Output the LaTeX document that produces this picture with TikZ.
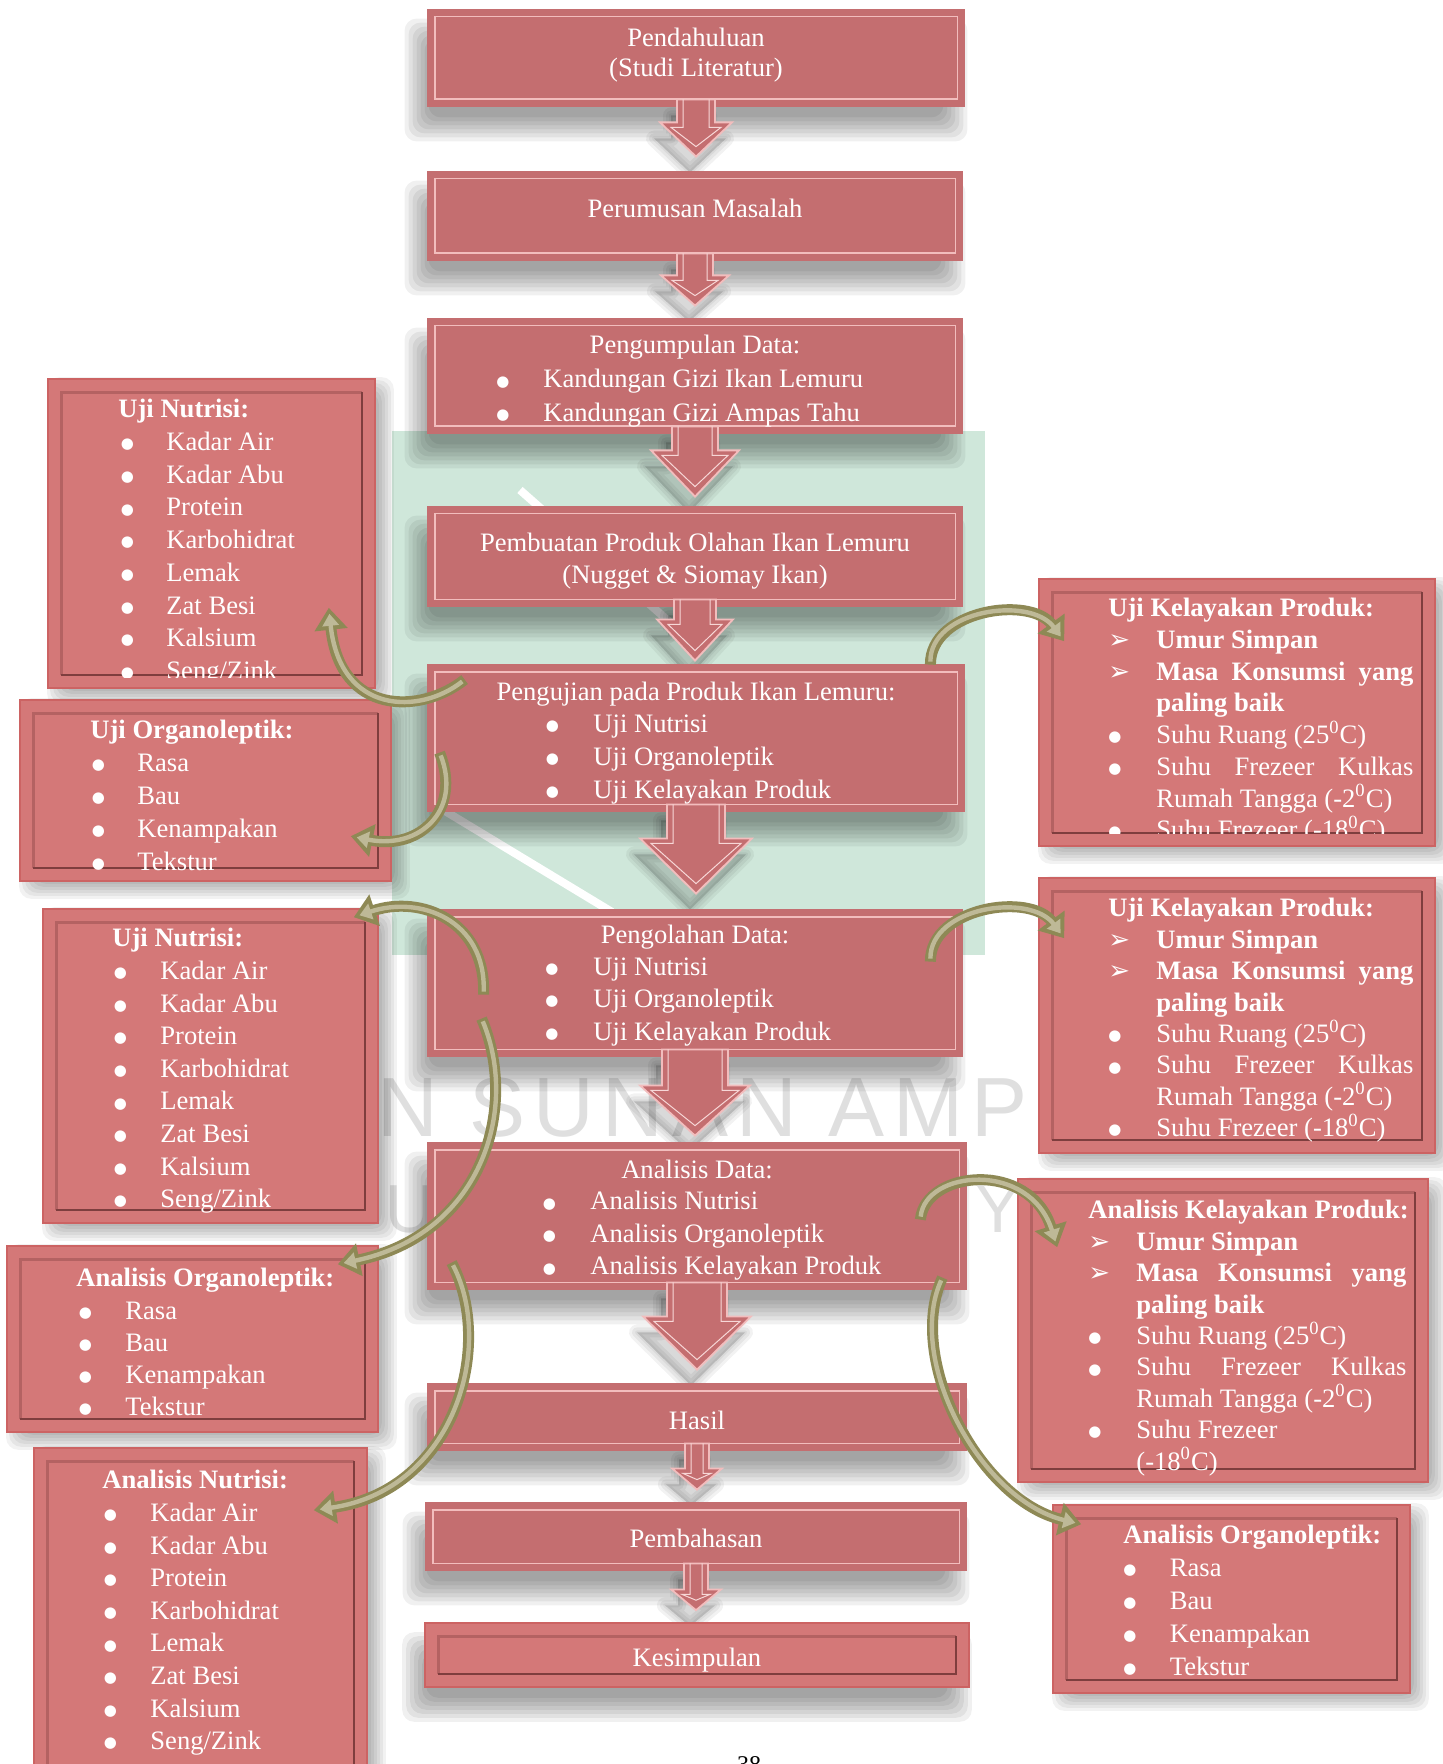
\documentclass[tikz,border=0pt]{standalone}
\usepackage{fontspec}
\setmainfont{Liberation Serif}
\newfontfamily\dingfont{DejaVu Sans}
\newfontfamily\wmfont[LetterSpace=10]{Liberation Sans}
\usetikzlibrary{arrows.meta,calc,fit}

\definecolor{mainfill}{HTML}{C46E70}
\definecolor{sidefill}{HTML}{D47878}
\definecolor{sideedge}{HTML}{CC6363}
\definecolor{framepink}{HTML}{F2BDBD}
\definecolor{bevellight}{HTML}{B46262}
\definecolor{beveldark}{HTML}{7E3E3E}
\definecolor{olive}{HTML}{8E8955}
\definecolor{olivelight}{HTML}{BEB997}
\definecolor{wmgreen}{HTML}{CFE7DA}
\definecolor{wmgray}{HTML}{9C9C9C}

\pgfdeclarelayer{wm}
\pgfdeclarelayer{bg}
\pgfsetlayers{wm,bg,main}

% list helpers: bullet / arrowhead marker in a box of given width
\newcommand\bul[1]{\makebox[#1][l]{\raisebox{0.9pt}{\dingfont\fontsize{7.5}{8}\selectfont ●}}}
\newcommand\arw[1]{\makebox[#1][l]{\dingfont\fontsize{13}{13}\selectfont ➢}}
\newcommand\dg{\textsuperscript{0}}

% box in the main column: name, x1, y1, x2, y2
\newcommand\MainBox[5]{%
  \node[mainbox, fit={(#2,#3) (#4,#5)}] (#1) {};
  \draw[mainframe] ([shift={(8,8)}]#1.north west) rectangle ([shift={(-8,-8)}]#1.south east);
}
% bevelled side box: name, x1, y1, x2, y2
\newcommand\SideBox[5]{%
  \node[sidebox, fit={(#2,#3) (#4,#5)}] (#1) {};
  \draw[bevtop] ([shift={(14,-14)}]#1.south west) |- ([shift={(-14,14)}]#1.north east);
  \draw[bevbot] ([shift={(14,-14)}]#1.south west) -| ([shift={(-14,14)}]#1.north east);
}
% soft shadow made of stacked translucent rectangles: node, dx, dy, step, opacity
\newcommand\SoftShadow[5]{%
  \foreach \k in {1,...,7}{%
    \fill[black, opacity=#5, rounded corners=6pt]
      ($(#1.north west)+(#2-\k*#4+4*#4,#3-\k*#4+4*#4)$) rectangle
      ($(#1.south east)+(#2+\k*#4-4*#4,#3+\k*#4-4*#4)$);
  }%
}
% block arrow between two boxes of the main column
% from, to, shaft half width, head half width, head top below 'from', tip above 'to', prefix
\newcommand\DownArrow[7]{%
  \coordinate (#7a) at ($(#1.south)+(-#3,-8)$);
  \coordinate (#7b) at ($(#1.south)+(-#3,#5)$);
  \coordinate (#7c) at ($(#1.south)+(-#4,#5)$);
  \coordinate (#7d) at ($(#2.north -| #1.south)+(0,-#6)$);
  \coordinate (#7e) at ($(#1.south)+(#4,#5)$);
  \coordinate (#7f) at ($(#1.south)+(#3,#5)$);
  \coordinate (#7g) at ($(#1.south)+(#3,-8)$);
  \begin{pgfonlayer}{bg}
    \foreach \w in {4,10,16}{%
      \filldraw[black, opacity=.05, line width=\w*0.5pt, line join=round,
                transform canvas={xshift=-3pt, yshift=-8pt}]
        (#7a) -- (#7b) -- (#7c) -- (#7d) -- (#7e) -- (#7f) -- (#7g) -- cycle;
    }%
  \end{pgfonlayer}
  \draw[blockarrow] (#7a) -- (#7b) -- (#7c) -- (#7d) -- (#7e) -- (#7f) -- (#7g) -- cycle;
  \draw[arrowinner] ($(#1.south)+(-#3+6,-8)$) -- ($(#1.south)+(-#3+6,#5+5)$)
     -- ($(#1.south)+(-#4+11,#5+5)$) -- ($(#2.north -| #1.south)+(0,-#6-10)$)
     -- ($(#1.south)+(#4-11,#5+5)$) -- ($(#1.south)+(#3-6,#5+5)$) -- ($(#1.south)+(#3-6,-8)$);
}
% curved olive arrow: start, control 1, control 2, end
\newcommand\Curve[4]{%
  \draw[curveout] #1 .. controls #2 and #3 .. #4;
  \draw[curvein] #1 .. controls #2 and #3 .. #4;
}

\begin{document}
\begin{tikzpicture}[x=0.5pt, y=-0.5pt,
  mainbox/.style={fill=mainfill, draw=none, inner sep=0pt},
  sidebox/.style={fill=sidefill, draw=sideedge, line width=0.8pt, inner sep=0pt},
  mainframe/.style={draw=framepink, line width=0.9pt},
  bevtop/.style={draw=bevellight, line width=1.5pt},
  bevbot/.style={draw=beveldark, line width=0.9pt},
  blockarrow/.style={fill=mainfill, draw=framepink, line width=0.9pt},
  arrowinner/.style={draw=framepink!60!white, line width=0.5pt},
  curveout/.style={draw=olive, line width=5.5pt, -{Triangle[width=16pt,length=11pt]}},
  curvein/.style={draw=olivelight, line width=2.2pt, shorten <=1.5pt, shorten >=3pt, -{Triangle[width=8pt,length=6pt]}},
  txt/.style={text=white, inner sep=0pt, font=\fontsize{13.3}{16.3}\selectfont},
  one/.style={txt, text height=9pt, text depth=0pt},
  list/.style={txt, align=left, anchor=north west},
  wmtxt/.style={text=wmgray, opacity=.32, inner sep=0pt, anchor=base west}]

\useasboundingbox (0,0) rectangle (1442,1764);

% ---------- faint background emblem and lettering ----------
\begin{pgfonlayer}{wm}
  \fill[white] (0,0) rectangle (1442,1764);
  \fill[wmgreen] (392,431) rectangle (985,955);
  \draw[white, line width=4pt] (440,808) -- (612,912);
  \draw[white, line width=4pt] (520,490) -- (690,640);
  \node[wmtxt, font=\wmfont\fontsize{42}{42}\selectfont] (wmA) at (276,1136) {UIN SUNAN AMP};
  \node[wmtxt, font=\wmfont\fontsize{34}{34}\selectfont] (wmU) at (385,1232) {U};
  \node[wmtxt, font=\wmfont\fontsize{34}{34}\selectfont] (wmY) at (975,1232) {Y};
\end{pgfonlayer}

% ---------- main column ----------
\MainBox{pend}{427}{9}{965}{107}
\node[txt, align=center, font=\fontsize{13.3}{15.3}\selectfont] (pendT) at (696,55) {Pendahuluan\\(Studi Literatur)};

\MainBox{rum}{427}{171}{963}{261}
\node[one] (rumT) at (695,209) {Perumusan Masalah};

\MainBox{kumpul}{427}{318}{963}{434}
\node[one] (kumpulH) at (695,345) {Pengumpulan Data:};
\node[list, font=\fontsize{13.3}{16.9}\selectfont] (kumpulL) at (496,369)
  {\bul{23.5pt}Kandungan Gizi Ikan Lemuru\\\bul{23.5pt}Kandungan Gizi Ampas Tahu};

\MainBox{buat}{427}{506}{963}{607}
\node[txt, align=center, font=\fontsize{13.3}{16}\selectfont] (buatT) at (695,561)
  {Pembuatan Produk Olahan Ikan Lemuru\\(Nugget \& Siomay Ikan)};

\MainBox{uji}{427}{664}{965}{812}
\node[one] (ujiH) at (696,691) {Pengujian pada Produk Ikan Lemuru:};
\node[list, font=\fontsize{13.3}{16.5}\selectfont] (ujiL) at (545.5,714)
  {\bul{23.75pt}Uji Nutrisi\\\bul{23.75pt}Uji Organoleptik\\\bul{23.75pt}Uji Kelayakan Produk};

\MainBox{olah}{427}{909}{963}{1057}
\node[one] (olahH) at (695,934) {Pengolahan Data:};
\node[list, font=\fontsize{13.3}{16.25}\selectfont] (olahL) at (545,957)
  {\bul{24pt}Uji Nutrisi\\\bul{24pt}Uji Organoleptik\\\bul{24pt}Uji Kelayakan Produk};

\MainBox{anal}{427}{1142}{967}{1290}
\node[one] (analH) at (697,1169) {Analisis Data:};
\node[list, font=\fontsize{13.3}{16.25}\selectfont] (analL) at (542.5,1191)
  {\bul{23.75pt}Analisis Nutrisi\\\bul{23.75pt}Analisis Organoleptik\\\bul{23.75pt}Analisis Kelayakan Produk};

\MainBox{hasil}{427}{1383}{967}{1451}
\node[one] (hasilT) at (697,1420) {Hasil};

\MainBox{bahas}{425}{1502}{967}{1571}
\node[one] (bahasT) at (696,1538) {Pembahasan};

\SideBox{simpul}{425}{1623}{969}{1687}
\node[one] (simpulT) at (697,1657) {Kesimpulan};

\DownArrow{pend}{rum}{19}{36}{15}{14}{ar1}
\DownArrow{rum}{kumpul}{18}{34}{14}{12}{ar2}
\DownArrow{kumpul}{buat}{23}{44}{16}{9}{ar3}
\DownArrow{buat}{uji}{21}{38}{12}{3}{ar4}
\DownArrow{uji}{olah}{29}{56}{26}{15}{ar5}
\DownArrow{olah}{anal}{33}{55}{28}{6}{ar6}
\DownArrow{anal}{hasil}{30}{54}{26}{13}{ar7}
\DownArrow{hasil}{bahas}{12}{25}{17}{12}{ar8}
\DownArrow{bahas}{simpul}{12}{25}{18}{12}{ar9}

% ---------- left column ----------
\SideBox{nutA}{48}{379}{375}{688}
\begin{scope}
  \clip (48,379) rectangle (375,677);
  \node[list, font=\fontsize{13.3}{16.35}\selectfont] (nutAT) at (118,399)
   {\textbf{Uji Nutrisi:}\\
    \hspace*{1.25pt}\bul{22.75pt}Kadar Air\\
    \hspace*{1.25pt}\bul{22.75pt}Kadar Abu\\
    \hspace*{1.25pt}\bul{22.75pt}Protein\\
    \hspace*{1.25pt}\bul{22.75pt}Karbohidrat\\
    \hspace*{1.25pt}\bul{22.75pt}Lemak\\
    \hspace*{1.25pt}\bul{22.75pt}Zat Besi\\
    \hspace*{1.25pt}\bul{22.75pt}Kalsium\\
    \hspace*{1.25pt}\bul{22.75pt}Seng/Zink};
\end{scope}

\SideBox{orgA}{20}{700}{391}{881}
\node[list, font=\fontsize{13.3}{16.4}\selectfont] (orgAT) at (90,720)
  {\textbf{Uji Organoleptik:}\\
   \hspace*{0.75pt}\bul{22.75pt}Rasa\\
   \hspace*{0.75pt}\bul{22.75pt}Bau\\
   \hspace*{0.75pt}\bul{22.75pt}Kenampakan\\
   \hspace*{0.75pt}\bul{22.75pt}Tekstur};

\SideBox{nutB}{43}{909}{378}{1223}
\node[list, font=\fontsize{13.3}{16.3}\selectfont] (nutBT) at (112,928)
  {\textbf{Uji Nutrisi:}\\
   \hspace*{0.75pt}\bul{23.25pt}Kadar Air\\
   \hspace*{0.75pt}\bul{23.25pt}Kadar Abu\\
   \hspace*{0.75pt}\bul{23.25pt}Protein\\
   \hspace*{0.75pt}\bul{23.25pt}Karbohidrat\\
   \hspace*{0.75pt}\bul{23.25pt}Lemak\\
   \hspace*{0.75pt}\bul{23.25pt}Zat Besi\\
   \hspace*{0.75pt}\bul{23.25pt}Kalsium\\
   \hspace*{0.75pt}\bul{23.25pt}Seng/Zink};

\SideBox{orgB}{7}{1246}{378}{1432}
\node[list, font=\fontsize{13.3}{16.1}\selectfont] (orgBT) at (76,1268)
  {\textbf{Analisis Organoleptik:}\\
   \hspace*{1.25pt}\bul{23.25pt}Rasa\\
   \hspace*{1.25pt}\bul{23.25pt}Bau\\
   \hspace*{1.25pt}\bul{23.25pt}Kenampakan\\
   \hspace*{1.25pt}\bul{23.25pt}Tekstur};

\SideBox{nutC}{34}{1448}{367}{1790}
\node[list, font=\fontsize{13.3}{16.3}\selectfont] (nutCT) at (102,1470)
  {\textbf{Analisis Nutrisi:}\\
   \hspace*{0.75pt}\bul{23.25pt}Kadar Air\\
   \hspace*{0.75pt}\bul{23.25pt}Kadar Abu\\
   \hspace*{0.75pt}\bul{23.25pt}Protein\\
   \hspace*{0.75pt}\bul{23.25pt}Karbohidrat\\
   \hspace*{0.75pt}\bul{23.25pt}Lemak\\
   \hspace*{0.75pt}\bul{23.25pt}Zat Besi\\
   \hspace*{0.75pt}\bul{23.25pt}Kalsium\\
   \hspace*{0.75pt}\bul{23.25pt}Seng/Zink};

% ---------- right column ----------
\SideBox{kelA}{1039}{579}{1435}{846}
\begin{scope}
  \clip (1039,579) rectangle (1435,833);
  \node[list, font=\fontsize{13.3}{15.85}\selectfont] (kelAT) at (1108,598)
   {\textbf{Uji Kelayakan Produk:}\\
    \arw{24pt}\textbf{Umur Simpan}\\
    \arw{24pt}\makebox[128.5pt][s]{\bfseries Masa Konsumsi yang}\\
    \hspace*{24pt}\textbf{paling baik}\\
    \bul{24pt}Suhu Ruang (25\dg C)\\
    \bul{24pt}\makebox[128.5pt][s]{Suhu Frezeer Kulkas}\\
    \hspace*{24pt}Rumah Tangga (-2\dg C)\\
    \bul{24pt}Suhu Frezeer (-18\dg C)};
\end{scope}

\SideBox{kelB}{1039}{878}{1435}{1153}
\node[list, font=\fontsize{13.3}{15.7}\selectfont] (kelBT) at (1108,898)
  {\textbf{Uji Kelayakan Produk:}\\
   \arw{24pt}\textbf{Umur Simpan}\\
   \arw{24pt}\makebox[128.5pt][s]{\bfseries Masa Konsumsi yang}\\
   \hspace*{24pt}\textbf{paling baik}\\
   \bul{24pt}Suhu Ruang (25\dg C)\\
   \bul{24pt}\makebox[128.5pt][s]{Suhu Frezeer Kulkas}\\
   \hspace*{24pt}Rumah Tangga (-2\dg C)\\
   \bul{24pt}Suhu Frezeer (-18\dg C)};

\SideBox{kelC}{1018}{1179}{1428}{1482}
\node[list, font=\fontsize{13.3}{15.7}\selectfont] (kelCT) at (1088,1200)
  {\textbf{Analisis Kelayakan Produk:}\\
   \arw{24pt}\textbf{Umur Simpan}\\
   \arw{24pt}\makebox[135pt][s]{\bfseries Masa Konsumsi yang}\\
   \hspace*{24pt}\textbf{paling baik}\\
   \bul{24pt}Suhu Ruang (25\dg C)\\
   \bul{24pt}\makebox[135pt][s]{Suhu Frezeer Kulkas}\\
   \hspace*{24pt}Rumah Tangga (-2\dg C)\\
   \bul{24pt}Suhu Frezeer\\
   \hspace*{24pt}(-18\dg C)};

\SideBox{orgC}{1053}{1505}{1410}{1693}
\node[list, font=\fontsize{13.3}{16.4}\selectfont] (orgCT) at (1123,1525)
  {\textbf{Analisis Organoleptik:}\\
   \bul{23.25pt}Rasa\\
   \bul{23.25pt}Bau\\
   \bul{23.25pt}Kenampakan\\
   \bul{23.25pt}Tekstur};

% ---------- shadows under the boxes ----------
\begin{pgfonlayer}{bg}
  \foreach \n in {pend,rum,kumpul,buat,uji,olah,anal,hasil,bahas,simpul}
    {\SoftShadow{\n}{-10}{22}{4}{.06}}
  \foreach \n in {nutA,orgA,kelA,nutB,kelB,orgB,kelC,nutC,orgC}
    {\SoftShadow{\n}{9}{8}{3}{.05}}
\end{pgfonlayer}

% ---------- curved arrows to the detail boxes ----------
\Curve{([shift={(38,16)}]uji.north west)}{(420,715)}{(340,715)}{([shift={(-47,-81)}]nutA.south east)}
\Curve{([shift={(13,89)}]uji.north west)}{(462,810)}{(420,850)}{([shift={(-41,137)}]orgA.north east)}
\Curve{([shift={(-35,1)}]uji.north east)}{(930,610)}{(1030,595)}{([shift={(26,63)}]kelA.north west)}
\Curve{([shift={(57,86)}]olah.north west)}{(486,920)}{(420,895)}{([shift={(-25,9)}]nutB.north east)}
\Curve{([shift={(55,110)}]olah.north west)}{(520,1110)}{(480,1235)}{([shift={(-41,19)}]orgB.north east)}
\Curve{([shift={(25,121)}]anal.north west)}{(495,1345)}{(455,1490)}{([shift={(-54,63)}]nutC.north east)}
\Curve{([shift={(-33,53)}]olah.north east)}{(930,907)}{(1030,892)}{([shift={(26,61)}]kelB.north west)}
\Curve{([shift={(-47,78)}]anal.north east)}{(925,1170)}{(1030,1160)}{([shift={(40,69)}]kelC.north west)}
\Curve{([shift={(-25,136)}]anal.north east)}{(905,1360)}{(980,1500)}{([shift={(29,20)}]orgC.north west)}

% page number, mostly below the page edge
\node[anchor=north, inner sep=0pt, font=\fontsize{12}{12}\selectfont] (pageno) at (749,1756) {38};
\end{tikzpicture}
\end{document}
